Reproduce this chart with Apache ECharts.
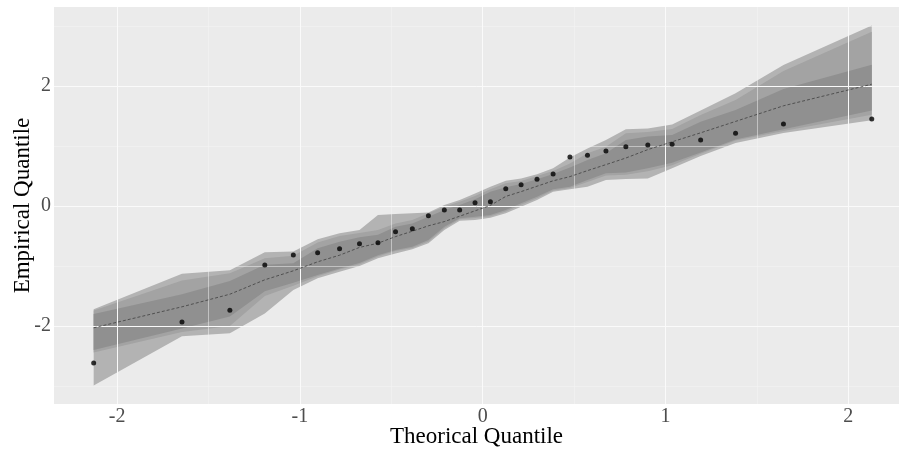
<!DOCTYPE html>
<html>
<head>
<meta charset="utf-8">
<script src="https://cdn.jsdelivr.net/npm/echarts@6/dist/echarts.min.js"></script>
<style>html,body{margin:0;padding:0;background:#fff;}#c{width:899px;height:454px;}</style>
</head>
<body>
<div id="c"></div>
<script>
// Theoretical quantiles (x)
const theo = [-2.128,-1.645,-1.383,-1.192,-1.036,-0.903,-0.783,-0.674,-0.573,-0.477,-0.385,-0.297,-0.210,-0.126,-0.042,0.042,0.126,0.210,0.297,0.385,0.477,0.573,0.674,0.783,0.903,1.036,1.192,1.383,1.645,2.128];
// Empirical quantiles (points)
const empirical = [-2.617,-1.933,-1.739,-0.983,-0.817,-0.778,-0.711,-0.628,-0.611,-0.428,-0.378,-0.161,-0.067,-0.067,0.056,0.072,0.289,0.356,0.444,0.533,0.817,0.844,0.917,0.989,1.017,1.028,1.100,1.211,1.367,1.450];
// Reference (dashed) line
const refLine = [-2.03,-1.68,-1.47,-1.23,-1.08,-0.93,-0.82,-0.69,-0.62,-0.51,-0.42,-0.33,-0.26,-0.17,-0.08,0.01,0.16,0.24,0.33,0.42,0.49,0.59,0.69,0.80,0.94,1.07,1.22,1.41,1.67,2.03];
// Outer band
const outerHi = [-1.72,-1.13,-1.07,-0.77,-0.76,-0.555,-0.456,-0.40,-0.15,-0.135,-0.12,-0.11,0.017,0.10,0.21,0.32,0.42,0.46,0.53,0.63,0.81,0.96,1.10,1.28,1.29,1.36,1.59,1.88,2.35,3.01];
const outerLo = [-2.99,-2.17,-2.12,-1.79,-1.40,-1.206,-1.095,-1.00,-0.87,-0.79,-0.72,-0.622,-0.40,-0.244,-0.233,-0.194,-0.12,-0.011,0.10,0.239,0.278,0.322,0.433,0.45,0.46,0.628,0.835,1.05,1.215,1.43];
// Middle band
const midHi = [-1.74,-1.24,-1.12,-0.87,-0.83,-0.61,-0.50,-0.45,-0.40,-0.29,-0.233,-0.12,-0.011,0.072,0.167,0.278,0.378,0.417,0.50,0.583,0.71,0.878,0.989,1.211,1.233,1.283,1.517,1.767,2.25,2.906];
const midLo = [-2.44,-2.10,-2.00,-1.50,-1.33,-1.17,-1.06,-0.97,-0.84,-0.75,-0.70,-0.59,-0.37,-0.22,-0.20,-0.17,-0.09,0.02,0.13,0.26,0.30,0.40,0.51,0.52,0.58,0.68,0.87,1.09,1.25,1.52];
// Inner band
const innerHi = [-1.80,-1.47,-1.25,-0.98,-0.956,-0.706,-0.594,-0.52,-0.48,-0.345,-0.29,-0.18,-0.067,0.017,0.111,0.239,0.311,0.367,0.444,0.533,0.64,0.767,0.878,1.10,1.16,1.183,1.406,1.60,1.95,2.355];
const innerLo = [-2.40,-2.04,-1.84,-1.42,-1.28,-1.15,-1.04,-0.95,-0.82,-0.733,-0.68,-0.567,-0.345,-0.205,-0.178,-0.15,-0.067,0.044,0.156,0.278,0.32,0.433,0.544,0.56,0.63,0.72,0.89,1.11,1.28,1.59];
// Ticks
const xTicks = [-2,-1,0,1,2];
const xMinor = [-1.5,-0.5,0.5,1.5];
const yTicks = [-2,0,2];
const yMinor = [-3,-1,1,3];

const chart = echarts.init(document.getElementById('c'), null, {renderer:'canvas'});

function bandSeries(lo, hi, color, z) {
  return {
    type: 'custom',
    z: z,
    silent: true,
    animation: false,
    data: theo.map((x, i) => [x, lo[i], hi[i]]),
    encode: {x: 0, y: [1, 2]},
    renderItem: function (params, api) {
      if (params.dataIndex !== 0) return null;
      const pts = [];
      for (let i = 0; i < theo.length; i++) pts.push(api.coord([theo[i], hi[i]]));
      for (let i = theo.length - 1; i >= 0; i--) pts.push(api.coord([theo[i], lo[i]]));
      return {type: 'polygon', shape: {points: pts}, style: {fill: color, stroke: null}};
    }
  };
}

const gridLines = [].concat(
  xMinor.map(v => ({xAxis: v, lineStyle: {width: 0.5, color: '#F5F5F5'}})),
  yMinor.map(v => ({yAxis: v, lineStyle: {width: 0.5, color: '#F5F5F5'}})),
  xTicks.map(v => ({xAxis: v, lineStyle: {width: 1, color: '#FAFAFA'}})),
  yTicks.map(v => ({yAxis: v, lineStyle: {width: 1, color: '#FAFAFA'}}))
);

const serif = '"Liberation Serif", "Times New Roman", serif';

chart.setOption({
  animation: false,
  backgroundColor: '#ffffff',
  grid: {left: 54, right: 0, top: 7, bottom: 50, show: true, backgroundColor: '#EBEBEB', borderWidth: 0,
         containLabel: false, outerBoundsMode: 'none'},
  xAxis: {
    type: 'value', min: -2.345, max: 2.277,
    name: 'Theorical Quantile', nameLocation: 'middle', nameGap: 21, nameMoveOverlap: false,
    nameTextStyle: {fontFamily: serif, fontSize: 23, color: '#000', verticalAlign: 'top'},
    axisLine: {show: false},
    axisTick: {show: true, length: 4, lineStyle: {color: '#333333', width: 1}, customValues: xTicks},
    axisLabel: {fontFamily: serif, fontSize: 20, color: '#4D4D4D', margin: 3, customValues: xTicks},
    splitLine: {show: false}
  },
  yAxis: {
    type: 'value', min: -3.3, max: 3.317,
    name: 'Empirical Quantile', nameLocation: 'middle', nameGap: 20, nameMoveOverlap: false,
    nameTextStyle: {fontFamily: serif, fontSize: 23, color: '#000', verticalAlign: 'bottom'},
    axisLine: {show: false},
    axisTick: {show: true, length: 4, lineStyle: {color: '#333333', width: 1}, customValues: yTicks},
    axisLabel: {fontFamily: serif, fontSize: 20, color: '#4D4D4D', margin: 3, customValues: yTicks},
    splitLine: {show: false}
  },
  series: [
    {
      type: 'line', z: 1, data: [[0, 0]], showSymbol: false, symbol: 'none',
      lineStyle: {width: 0, opacity: 0}, silent: true,
      markLine: {silent: true, symbol: ['none', 'none'], label: {show: false}, animation: false,
        lineStyle: {color: '#ffffff', type: 'solid'}, emphasis: {disabled: true}, data: gridLines}
    },
    bandSeries(outerLo, outerHi, '#b3b3b3', 2),
    bandSeries(midLo, midHi, '#a3a3a3', 3),
    bandSeries(innerLo, innerHi, '#909090', 4),
    {
      type: 'line', z: 5, data: theo.map((x, i) => [x, refLine[i]]), showSymbol: false, symbol: 'none',
      lineStyle: {color: '#333333', width: 0.7, type: [3, 2]}, silent: true
    },
    {
      type: 'scatter', z: 6, data: theo.map((x, i) => [x, empirical[i]]), symbolSize: 5,
      itemStyle: {color: '#000000'}, silent: true
    }
  ]
});
</script>
</body>
</html>
